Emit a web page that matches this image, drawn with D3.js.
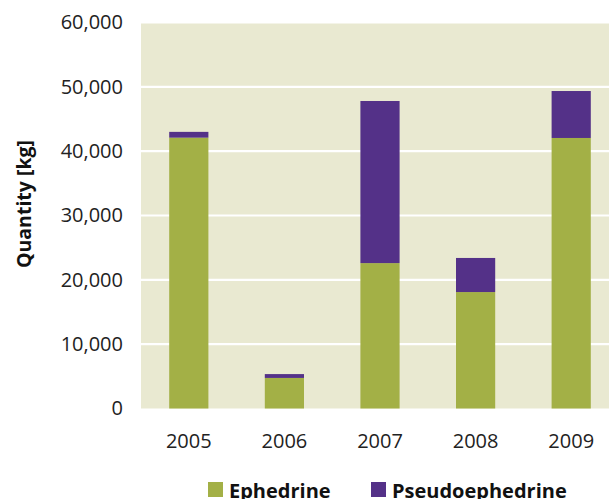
<!DOCTYPE html>
<html><head><meta charset="utf-8">
<script src="https://cdn.jsdelivr.net/npm/d3@7"></script>
<style>body{margin:0;background:#fff}svg{display:block;font-family:"Open Sans",sans-serif}</style>
</head><body>
<script>
const years = ["2005","2006","2007","2008","2009"];
const ephedrine = [42100, 4750, 22600, 18100, 42050];
const pseudoephedrine = [900, 600, 25200, 5300, 7300];
const seriesNames = ["Ephedrine","Pseudoephedrine"];
const colors = ["#a3b046","#543188"];
const yTicks = [0,10000,20000,30000,40000,50000,60000];

(function(){
const W=609,H=499;
const svg=d3.select("body").append("svg").attr("width",W).attr("height",H);
const pL=141,pR=619,pT=22.5,pB=408.5;
const x=d3.scaleBand().domain(years).range([pL,pR]).paddingInner(0.59).paddingOuter(0.295);
const y=d3.scaleLinear().domain([0,60000]).range([pB,pT]);

svg.append("rect").attr("x",pL).attr("y",pT).attr("width",pR-pL).attr("height",pB-pT).attr("fill","#e9e9d1");
svg.append("g").selectAll("line").data(yTicks.filter(d=>d>0)).join("line")
  .attr("x1",pL).attr("x2",pR).attr("y1",d=>y(d)).attr("y2",d=>y(d))
  .attr("stroke","#fff").attr("stroke-width",2.2);

const rows=years.map((yr,i)=>({year:yr,Ephedrine:ephedrine[i],Pseudoephedrine:pseudoephedrine[i]}));
const stacked=d3.stack().keys(seriesNames)(rows);
svg.append("g").selectAll("g").data(stacked).join("g").attr("fill",(d,i)=>colors[i])
  .selectAll("rect").data(d=>d).join("rect")
  .attr("x",d=>x(d.data.year)).attr("width",x.bandwidth())
  .attr("y",d=>y(d[1])).attr("height",d=>y(d[0])-y(d[1]));

const fmt=d3.format(",");
const ya=svg.append("g").attr("transform",`translate(${pL-18},0)`)
  .call(d3.axisLeft(y).tickValues(yTicks).tickFormat(fmt).tickSize(0).tickPadding(0));
ya.select(".domain").remove();
ya.selectAll("text").attr("font-size",20).attr("fill","#222").attr("font-family","Open Sans, sans-serif");

const xa=svg.append("g").attr("transform",`translate(0,${pB+25.5})`)
  .call(d3.axisBottom(x).tickSize(0).tickPadding(0));
xa.select(".domain").remove();
xa.selectAll("text").attr("font-size",20).attr("fill","#222").attr("dy","0.71em").attr("font-family","Open Sans, sans-serif");

svg.append("text").attr("transform","translate(31,204) rotate(-90)").attr("text-anchor","middle")
  .attr("font-size",19.5).attr("font-weight","bold").attr("fill","#111").text("Quantity [kg]");

const legX=[208,371];
const lg=svg.append("g").selectAll("g").data(seriesNames).join("g")
  .attr("transform",(d,i)=>`translate(${legX[i]},482)`);
lg.append("rect").attr("width",15).attr("height",15).attr("fill",(d,i)=>colors[i]);
lg.append("text").attr("x",21).attr("y",15.5).attr("font-size",20).attr("font-weight","bold").attr("fill","#111").text(d=>d);
})();
</script>
</body></html>
